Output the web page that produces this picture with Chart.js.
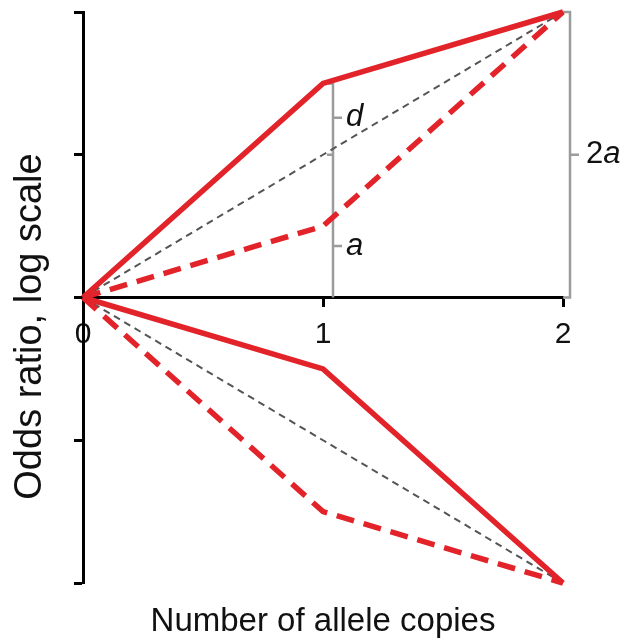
<!DOCTYPE html>
<html><head><meta charset="utf-8">
<script src="https://cdn.jsdelivr.net/npm/chart.js@4/dist/chart.umd.min.js"></script>
<style>html,body{margin:0;padding:0;background:#fff;}#wrap{width:627px;height:642px;}</style>
</head><body><div id="wrap"><canvas id="c" width="627" height="642"></canvas></div>
<script>
// ---- data ----
const copies = [0, 1, 2];
const xTickLabels = ['0', '1', '2'];
const yTickValues = [-2, -1, 0, 1, 2];
const riskDominant = [0, 1.5, 2];     // solid red, upper
const riskRecessive = [0, 0.5, 2];    // dashed red, upper
const riskAdditive = [0, 1, 2];       // grey dashed, upper
const protDominant = [0, -0.5, -2];   // solid red, lower
const protRecessive = [0, -1.5, -2];  // dashed red, lower
const protAdditive = [0, -1, -2];     // grey dashed, lower
const xTitle = 'Number of allele copies';
const yTitle = 'Odds ratio, log scale';
const dTickValue = 1.26;
const aTickValue = 0.36;

const FONT = "'Liberation Sans', Arial, Helvetica, sans-serif";
const RED = '#e2232a';
const GREY = '#9b9b9b';

const pts = arr => copies.map((c, i) => ({x: c, y: arr[i]}));
const ds = (arr, color, width, dash) => ({
  data: pts(arr), borderColor: color, borderWidth: width, borderDash: dash,
  pointRadius: 0, tension: 0, fill: false, clip: false,
  borderCapStyle: 'butt', borderJoinStyle: 'miter'
});

const annot = {
  id: 'annot',
  beforeDatasetsDraw(chart) {
    const {ctx} = chart;
    const xs = chart.scales.x, ys = chart.scales.y;
    ctx.save();
    ctx.strokeStyle = GREY; ctx.lineWidth = 2.5; ctx.lineCap = 'butt';
    // bracket at x = 1
    const bx = xs.getPixelForValue(copies[1]) + 10;
    const yTop = ys.getPixelForValue(riskDominant[1]);
    const y0 = ys.getPixelForValue(0);
    const yMid = ys.getPixelForValue(riskAdditive[1]);
    const yd = ys.getPixelForValue(dTickValue);
    const ya = ys.getPixelForValue(aTickValue);
    ctx.beginPath();
    ctx.moveTo(bx - 5, yTop); ctx.lineTo(bx, yTop); ctx.lineTo(bx, y0);
    ctx.moveTo(bx - 6, yMid); ctx.lineTo(bx, yMid);
    ctx.moveTo(bx, yd); ctx.lineTo(bx + 9, yd);
    ctx.moveTo(bx, ya); ctx.lineTo(bx + 9, ya);
    ctx.stroke();
    // bracket at x = 2
    const cx = xs.getPixelForValue(copies[2]) + 7;
    const y2 = ys.getPixelForValue(riskDominant[2]);
    ctx.beginPath();
    ctx.moveTo(cx - 7, y2); ctx.lineTo(cx, y2); ctx.lineTo(cx, y0); ctx.lineTo(cx - 7, y0);
    ctx.moveTo(cx, yMid); ctx.lineTo(cx + 9, yMid);
    ctx.stroke();
    // labels
    ctx.fillStyle = '#111';
    ctx.textBaseline = 'middle'; ctx.textAlign = 'left';
    ctx.font = 'italic 31px ' + FONT;
    ctx.fillText('d', bx + 13, yd);
    ctx.fillText('a', bx + 13, ya);
    ctx.font = '31px ' + FONT;
    ctx.fillText('2', cx + 16, yMid);
    const w2 = ctx.measureText('2').width;
    ctx.font = 'italic 31px ' + FONT;
    ctx.fillText('a', cx + 16 + w2, yMid);
    ctx.restore();
  },
  afterDraw(chart) {
    const {ctx, chartArea} = chart;
    ctx.save();
    ctx.translate(31, (chartArea.top + chartArea.bottom) / 2 + 29);
    ctx.rotate(-Math.PI / 2);
    ctx.textAlign = 'center'; ctx.textBaseline = 'middle';
    ctx.fillStyle = '#111';
    ctx.font = '38px ' + FONT;
    ctx.fillText(yTitle, 0, 0);
    ctx.restore();
  }
};

new Chart(document.getElementById('c'), {
  type: 'line',
  data: {
    datasets: [
      ds(riskDominant, RED, 5.5, []),
      ds(riskRecessive, RED, 5.5, [18, 10]),
      ds(protDominant, RED, 5.5, []),
      ds(protRecessive, RED, 5.5, [18, 10]),
      ds(riskAdditive, '#555', 2, [7, 5]),
      ds(protAdditive, '#555', 2, [7, 5])
    ]
  },
  options: {
    responsive: false, animation: false,
    layout: {padding: {top: 12, right: 64, left: 0, bottom: 0}},
    plugins: {
      legend: {display: false}, tooltip: {enabled: false},
      title: {display: true, text: xTitle, position: 'bottom', fullSize: false,
        color: '#111', font: {family: FONT, size: 33, weight: 'normal', lineHeight: 1.2},
        padding: {top: 19, bottom: 0.4}}
    },
    scales: {
      x: {
        type: 'linear', min: 0, max: 2, position: {y: 0},
        afterBuildTicks: s => { s.ticks = copies.map(v => ({value: v})); },
        afterFit: s => { s.height = 0; },
        ticks: {color: '#111', font: {family: FONT, size: 30}, padding: 11, maxRotation: 0, autoSkip: false,
          callback: (v, i) => xTickLabels[i]},
        grid: {drawOnChartArea: false, drawTicks: true, tickLength: 8, tickWidth: 3, tickColor: '#000'},
        border: {display: true, color: '#000', width: 3}
      },
      y: {
        type: 'linear', min: -2, max: 2, position: 'left',
        afterBuildTicks: s => { s.ticks = yTickValues.map(v => ({value: v})); },
        afterFit: s => { s.width = 83; },
        ticks: {display: false},
        grid: {drawOnChartArea: false, drawTicks: true, tickLength: 9, tickWidth: 3, tickColor: '#000'},
        border: {display: true, color: '#000', width: 3}
      }
    }
  },
  plugins: [annot]
});
</script></body></html>
